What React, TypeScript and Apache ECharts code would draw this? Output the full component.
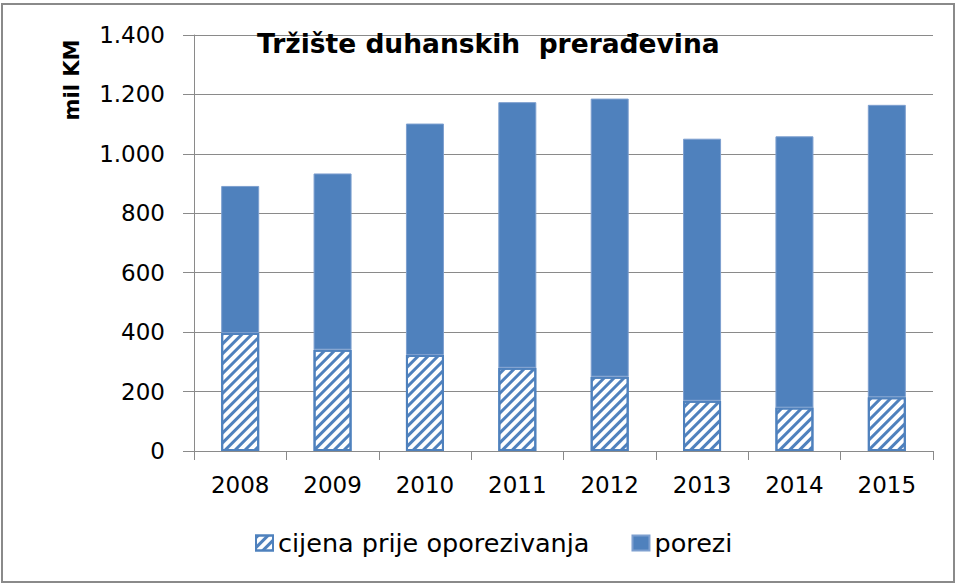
import React, { useEffect, useRef } from "react";
import * as echarts from "echarts";

const categories = ["2008", "2009", "2010", "2011", "2012", "2013", "2014", "2015"];
const cijenaPrijeOporezivanja = [397, 341, 323, 280, 250, 169, 146, 181];
const porezi = [495, 593, 779, 894, 936, 882, 913, 984];
const seriesNames = ["cijena prije oporezivanja", "porezi"];
const chartTitle = "Tržište duhanskih  prerađevina";
const yAxisTitle = "mil KM";

const BLUE = "#4F81BD";
const FONT = "DejaVu Sans";

function fmt(v: number): string {
  if (v >= 1000) {
    return `${Math.floor(v / 1000)}.${String(v % 1000).padStart(3, "0")}`;
  }
  return String(v);
}

export default function App() {
  const ref = useRef<HTMLDivElement>(null);
  useEffect(() => {
    document.body.style.margin = "0";
    const chart = echarts.init(ref.current!, undefined, { renderer: "svg" });
    chart.setOption({
      animation: false,
      backgroundColor: "#ffffff",
      title: {
        text: chartTitle,
        left: 257,
        top: 30,
        padding: 0,
        textStyle: { fontFamily: FONT, fontSize: 26.5, fontWeight: "bold", color: "#000" },
      },
      legend: {
        left: 255,
        top: 530,
        padding: 0,
        itemWidth: 17,
        itemHeight: 15,
        itemGap: 42,
        icon: "rect",
        textStyle: { fontFamily: FONT, fontSize: 25.5, color: "#000" },
        data: seriesNames,
      },
      grid: { left: 194, right: 24, top: 35, bottom: 133, containLabel: false },
      xAxis: {
        type: "category",
        data: categories,
        axisLine: { lineStyle: { color: "#8a8a8a", width: 1 } },
        axisTick: { show: true, length: 9, lineStyle: { color: "#8a8a8a" } },
        axisLabel: { fontFamily: FONT, fontSize: 23, color: "#000", margin: 22 },
      },
      yAxis: {
        type: "value",
        min: 0,
        max: 1400,
        interval: 200,
        axisLine: { show: true, lineStyle: { color: "#8a8a8a", width: 1 } },
        axisTick: { show: true, length: 11, lineStyle: { color: "#8a8a8a" } },
        axisLabel: { fontFamily: FONT, fontSize: 23, color: "#000", margin: 29, formatter: fmt },
        splitLine: { show: true, lineStyle: { color: "#8a8a8a", width: 1 } },
      },
      graphic: [
        {
          type: "rect",
          shape: { x: 2, y: 4, width: 952, height: 578 },
          style: { fill: "none", stroke: "#8a8a8a", lineWidth: 2 },
          silent: true,
          z: 100,
        },
        {
          type: "text",
          x: 72,
          y: 80,
          rotation: Math.PI / 2,
          style: {
            text: yAxisTitle,
            font: "bold 21px 'DejaVu Sans'",
            fill: "#000",
            align: "center",
            verticalAlign: "middle",
          },
        },
      ],
      series: [
        {
          name: seriesNames[0],
          type: "bar",
          stack: "total",
          barWidth: 38,
          data: cijenaPrijeOporezivanja,
          itemStyle: {
            color: "#ffffff",
            borderColor: BLUE,
            borderWidth: 2,
            decal: {
              symbol: "rect",
              symbolSize: 1,
              color: BLUE,
              dashArrayX: [1, 0],
              dashArrayY: [3, 3.5],
              rotation: -Math.PI / 4,
            },
          },
        },
        {
          name: seriesNames[1],
          type: "bar",
          stack: "total",
          barWidth: 38,
          data: porezi,
          itemStyle: { color: BLUE, borderColor: "#7d9fcf", borderWidth: 1 },
        },
      ],
    });
    return () => chart.dispose();
  }, []);
  return <div ref={ref} style={{ width: 957, height: 584 }} />;
}
